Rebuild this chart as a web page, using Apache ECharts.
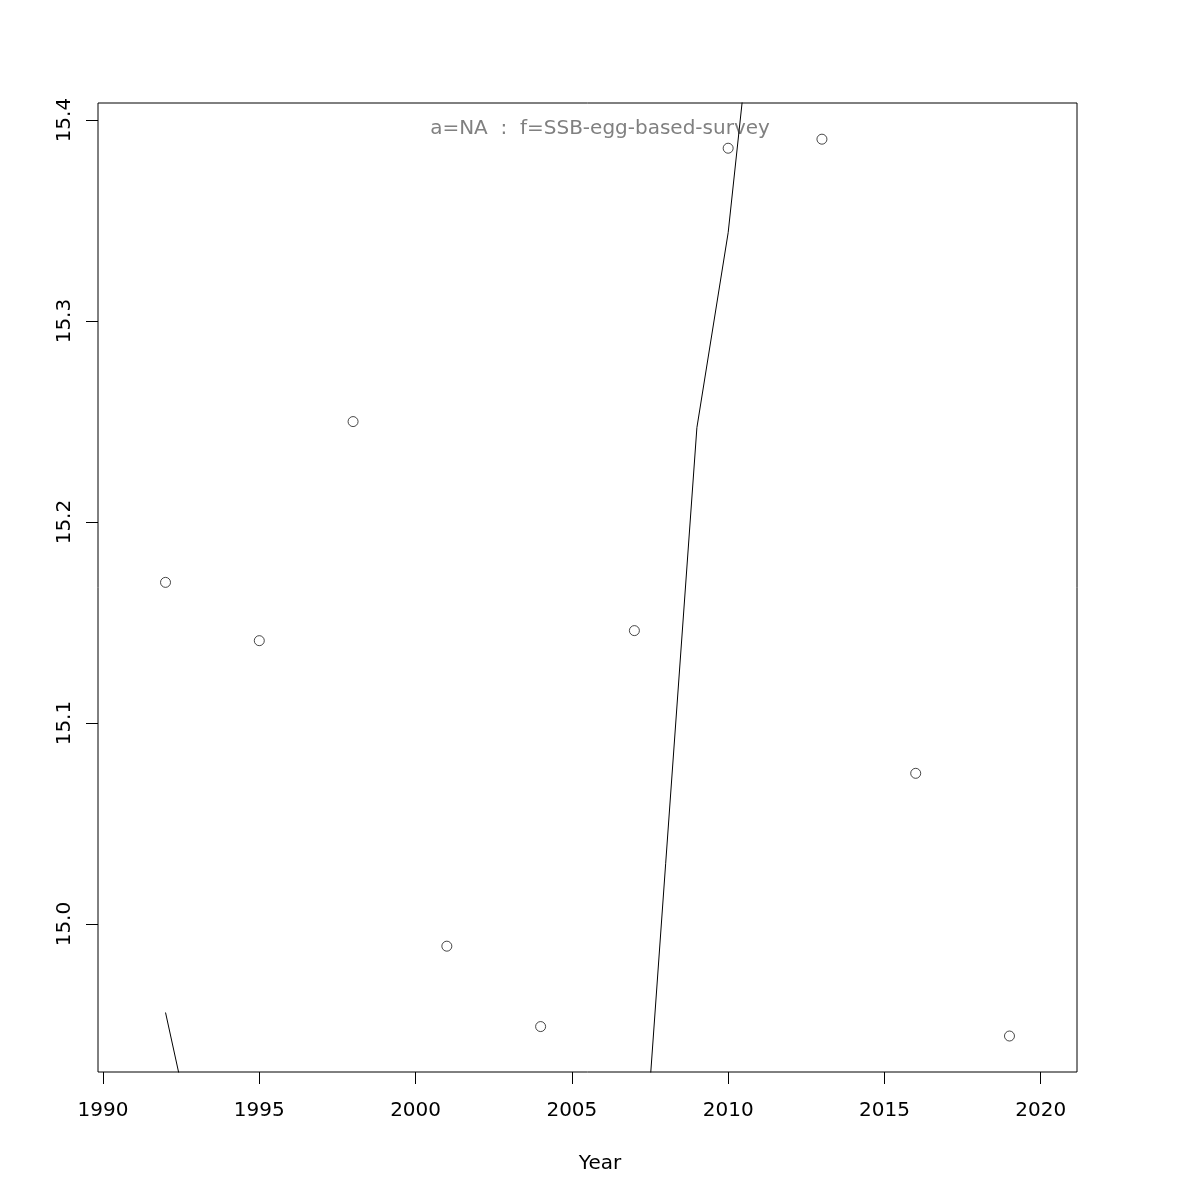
<!DOCTYPE html>
<html>
<head>
<meta charset="utf-8">
<script src="https://cdn.jsdelivr.net/npm/echarts@6/dist/echarts.min.js"></script>
<style>html,body{margin:0;padding:0;background:#fff}#c{width:1200px;height:1200px}</style>
</head>
<body>
<div id="c"></div>
<script>
// Observed survey index points
const pointYears = [1992, 1995, 1998, 2001, 2004, 2007, 2010, 2013, 2016, 2019];
const pointValues = [15.170, 15.141, 15.250, 14.989, 14.949, 15.146, 15.386, 15.3905, 15.075, 14.9443];
// Fitted line (mostly outside the visible y range; off-chart values estimated)
const lineYears = [1992,1993,1994,1995,1996,1997,1998,1999,2000,2001,2002,2003,2004,2005,2006,2007,2008,2009,2010,2011,2012,2013,2014,2015,2016,2017,2018,2019];
const lineValues = [14.956,14.885,14.82,14.76,14.71,14.67,14.64,14.62,14.61,14.61,14.62,14.65,14.69,14.73,14.77,14.812,15.030,15.247,15.344,15.489,15.60,15.70,15.78,15.85,15.90,15.94,15.97,15.99];
const xTicks = [1990, 1995, 2000, 2005, 2010, 2015, 2020];
const yTicks = [15.0, 15.1, 15.2, 15.3, 15.4];
const titleText = 'a=NA  :  f=SSB-egg-based-survey';
const xLabel = 'Year';

const chart = echarts.init(document.getElementById('c'), null, {renderer: 'canvas'});
const font = 'DejaVu Sans';
chart.setOption({
  animation: false,
  backgroundColor: '#ffffff',
  grid: {left: 98, right: 123, top: 103, bottom: 128, show: true, borderColor: '#000', borderWidth: 1, backgroundColor: 'transparent'},
  xAxis: {
    type: 'value', min: 1989.84, max: 2021.16,
    splitLine: {show: false},
    axisLine: {show: false},
    axisTick: {show: true, length: 12, lineStyle: {color: '#000', width: 1}, customValues: xTicks},
    axisLabel: {show: true, customValues: xTicks, margin: 29, color: '#000', fontFamily: font, fontSize: 20, formatter: v => String(Math.round(v))}
  },
  yAxis: {
    type: 'value', min: 14.9264, max: 15.4085,
    splitLine: {show: false},
    axisLine: {show: false},
    axisTick: {show: true, length: 12, lineStyle: {color: '#000', width: 1}, customValues: yTicks},
    axisLabel: {show: true, customValues: yTicks, rotate: 90, margin: 23, color: '#000', fontFamily: font, fontSize: 20, formatter: v => v.toFixed(1)}
  },
  graphic: [
    {type: 'text', left: 'center', top: 119, style: {text: titleText, fill: '#808080', font: '20px "DejaVu Sans"'}},
    {type: 'text', left: 'center', top: 1154, style: {text: xLabel, fill: '#000', font: '20px "DejaVu Sans"'}}
  ],
  series: [
    {type: 'line', data: lineYears.map((y, i) => [y, lineValues[i]]), showSymbol: false, symbol: 'none', clip: true,
     lineStyle: {color: '#000', width: 1}, z: 2},
    {type: 'scatter', data: pointYears.map((y, i) => [y, pointValues[i]]), symbol: 'circle', symbolSize: 10,
     itemStyle: {color: 'rgba(0,0,0,0)', borderColor: '#000', borderWidth: 0.9}, z: 3}
  ]
});
</script>
</body>
</html>
